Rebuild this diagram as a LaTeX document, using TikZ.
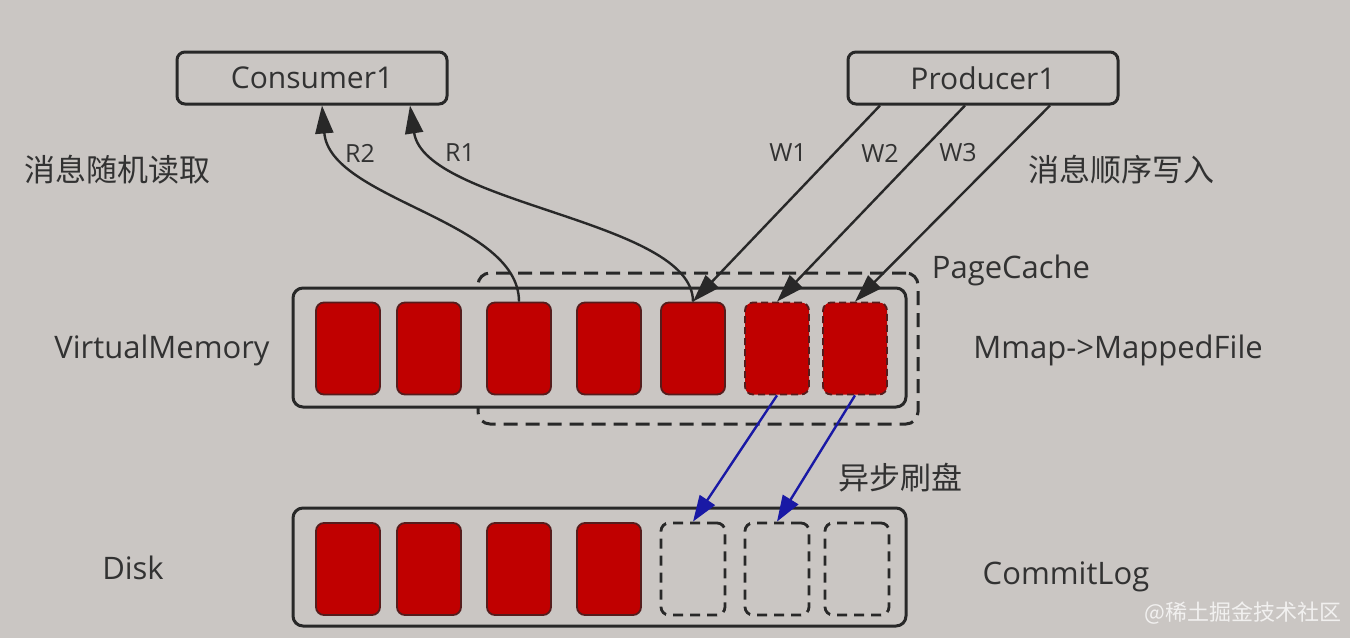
\documentclass[tikz,border=0pt]{standalone}
\usepackage{fontspec}
\setmainfont{Open Sans}
\newfontfamily\cjk{Noto Sans CJK SC}
\usetikzlibrary{arrows.meta,positioning,calc}
\definecolor{bgray}{RGB}{202,198,195}
\definecolor{ink}{RGB}{40,40,40}
\definecolor{txt}{RGB}{50,50,50}
\definecolor{cellred}{RGB}{192,0,0}
\definecolor{flushblue}{RGB}{25,25,165}
\tikzset{
  block/.style     = {draw=ink, line width=1.5pt, rounded corners=4pt, minimum width=135pt,
                      minimum height=26pt, font=\fontsize{15}{18}\selectfont, text=txt},
  store/.style     = {draw=ink, line width=1.5pt, rounded corners=5pt, fill=bgray, inner sep=0pt},
  cachebox/.style  = {draw=ink, line width=1.5pt, rounded corners=6pt, dash pattern=on 7pt off 4pt, inner sep=0pt},
  cell/.style      = {draw=ink!70!cellred, line width=0.9pt, fill=cellred, rounded corners=4pt,
                      minimum width=32pt, minimum height=46pt, inner sep=0pt},
  cached/.style    = {cell, dash pattern=on 3.5pt off 2pt},
  emptycell/.style = {cell, fill=none, draw=ink, line width=1.4pt, dash pattern=on 5pt off 3.5pt},
  lbl/.style       = {text=txt, font=\fontsize{15.5}{18}\selectfont, inner sep=0pt},
  tag/.style       = {text=txt, font=\fontsize{12.5}{15}\selectfont, inner sep=0pt},
  sig/.style       = {-{Triangle[length=14pt,width=9pt]}, line width=1.2pt, draw=ink},
  flush/.style     = {-{Triangle[length=13pt,width=9pt]}, line width=1.2pt, draw=flushblue},
}

\begin{document}
\begin{tikzpicture}[x=0.5pt,y=-0.5pt]
\fill[bgray] (0,0) rectangle (1350,638);
\useasboundingbox (0,0) rectangle (1350,638);

\node[block] (con) at (312,78) {Consumer1};
\node[block] (pro) at (983,78) {Producer1};

% page cache frame sits behind the memory box
\node[cachebox, minimum width=220pt, minimum height=75.5pt] (pc) at (698,348.5) {};
\node[store, minimum width=306.5pt, minimum height=59.5pt] (vm) at (599.5,347.5) {};
\node[store, minimum width=306.5pt, minimum height=59pt] (disk) at (599.5,567) {};

\foreach \n/\x in {1/348,2/429,3/519,4/609,5/693}
  \node[cell] (v\n) at (\x,348.5) {};
\foreach \n/\x in {6/777,7/855}
  \node[cached] (v\n) at (\x,348.5) {};
\foreach \n/\x in {1/348,2/429,3/519,4/609}
  \node[cell] (d\n) at (\x,569) {};
\foreach \n/\x in {5/693,6/777,7/857}
  \node[emptycell] (d\n) at (\x,569) {};

% reads
\draw[sig] (v3.north) .. controls (519,220) and (330,200) .. ([xshift=5pt]con.south);
\draw[sig] (v5.north) .. controls (693,220) and (425,205) .. ([xshift=49pt]con.south);
% writes
\draw[sig] ([xshift=-51.5pt]pro.south) -- (v5.north);
\draw[sig] ([xshift=-9pt]pro.south) -- (v6.north);
\draw[sig] ([xshift=33.5pt]pro.south) -- (v7.north);
% flush
\draw[flush] (v6.south) -- (d5.north);
\draw[flush] (v7.south) -- (d6.north);

\node[tag] (r2) at (360,153) {R2};
\node[tag] (r1) at (460,153) {R1};
\node[tag] (w1) at (788,153) {W1};
\node[tag] (w2) at (880,153) {W2};
\node[tag] (w3) at (958,153) {W3};

\node[lbl] (rdtxt) at (118,170) {\cjk 消息随机读取};
\node[lbl] (wrtxt) at (1121,170) {\cjk 消息顺序写入};
\node[lbl] (vmtxt) at (162,350) {VirtualMemory};
\node[lbl] (dktxt) at (133,568) {Disk};
\node[lbl] (mmtxt) at (1118,350) {Mmap->MappedFile};
\node[lbl] (cltxt) at (1066,577) {CommitLog};
\node[lbl] (pctxt) at (1011,270) {PageCache};
\node[lbl] (fltxt) at (900,478) {\cjk 异步刷盘};
\node[text=white, opacity=0.75, font=\fontsize{11}{13}\selectfont\cjk, inner sep=0pt] (mark) at (1243,613) {@稀土掘金技术社区};
\end{tikzpicture}
\end{document}
